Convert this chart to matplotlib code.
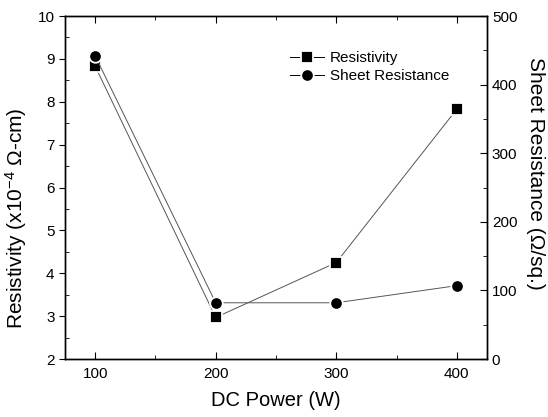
import numpy as np
import matplotlib.pyplot as plt

plt.rcParams['font.family'] = ['Liberation Sans', 'DejaVu Sans']
plt.rcParams['mathtext.fontset'] = 'custom'
plt.rcParams['mathtext.rm'] = 'Liberation Sans'
plt.rcParams['mathtext.it'] = 'Liberation Sans:italic'

# data
power = [100, 200, 300, 400]
resistivity = [8.83, 2.97, 4.25, 7.83]        # x10^-4 ohm-cm
sheet_res = [442, 82, 82, 107]                # ohm/sq.

fig = plt.figure(figsize=(5.48, 4.17), dpi=100)
ax = fig.add_axes([0.1186, 0.139, 0.7701, 0.8226])
ax2 = ax.twinx()

line_kw = dict(color='#555555', lw=0.7, mfc='black', mec='white', mew=1.3)
l1, = ax.plot(power, resistivity, marker='s', ms=8, label='Resistivity', **line_kw)
l2, = ax2.plot(power, sheet_res, marker='o', ms=9, label='Sheet Resistance', **line_kw)

ax.set_xlim(75, 425)
ax.set_ylim(2, 10)
ax2.set_ylim(0, 500)

ax.set_xticks([100, 200, 300, 400])
ax.set_xticks([150, 250, 350], minor=True)
ax.set_yticks(np.arange(2, 11, 1))
ax.set_yticks(np.arange(2.5, 10, 1), minor=True)
ax2.set_yticks(np.arange(0, 501, 100))
ax2.set_yticks(np.arange(50, 500, 100), minor=True)

ax.tick_params(axis='x', which='both', direction='in', top=True, labelsize=11, pad=6)
ax.tick_params(axis='x', which='major', length=5)
ax.tick_params(axis='x', which='minor', length=3)
ax.tick_params(axis='y', which='major', direction='out', length=4, labelsize=11)
ax.tick_params(axis='y', which='minor', direction='in', length=3)
ax2.tick_params(axis='y', which='major', direction='in', length=5, labelsize=11)
ax2.tick_params(axis='y', which='minor', direction='in', length=3)

for a in (ax, ax2):
    for s in a.spines.values():
        s.set_linewidth(1.0)

ax.set_xlabel('DC Power (W)', fontsize=14.5, labelpad=7)
ax.set_ylabel('Resistivity (x10$^{-4}$ \u03A9-cm)', fontsize=15)
ax2.set_ylabel('Sheet Resistance (\u03A9/sq.)', fontsize=15, rotation=270)
# labels in the original sit off-centre
ax.yaxis.set_label_coords(-0.086, 0.41)
ax2.yaxis.set_label_coords(1.137, 0.54)

leg = fig.legend(handles=[l1, l2], loc='upper left', bbox_to_anchor=(0.505, 0.91),
                 frameon=False, fontsize=11, handlelength=2.2, handletextpad=0.4,
                 labelspacing=0.25)
for h in leg.legend_handles:
    h.set_color('black')
    h.set_markeredgecolor('white')

fig.savefig('out.png', dpi=100)
